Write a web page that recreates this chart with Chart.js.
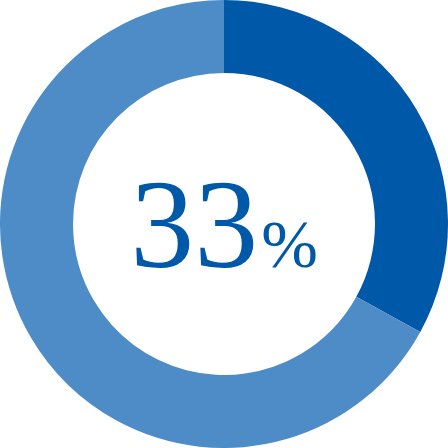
<!DOCTYPE html>
<html>
<head>
<meta charset="utf-8">
<script src="https://cdn.jsdelivr.net/npm/chart.js@4/dist/chart.umd.min.js"></script>
<style>
  html, body { margin: 0; padding: 0; background: #fff; }
  #wrap { width: 448px; height: 448px; }
</style>
</head>
<body>
<div id="wrap"><canvas id="grafico-ciambella" width="448" height="448"></canvas></div>
<script>
// dati del grafico
var etichette = ['Sì', 'Altro'];
var valori = [33, 67];
var colori = ['#0058a8', '#4d8cc6'];
var testoCentro = '33';
var unita = '%';

// scrivo la percentuale al centro della ciambella
var testoCentrale = {
    id: 'testoCentrale',
    afterDraw: function(chart){
        var ctx = chart.ctx;
        var meta = chart.getDatasetMeta(0).data[0];
        var cx = meta.x;
        var cy = meta.y;
        var fontGrande = '128px "Liberation Serif", "DejaVu Serif", serif';
        var fontPiccolo = '68px "Liberation Serif", "DejaVu Serif", serif';
        ctx.save();
        ctx.fillStyle = '#0058a8';
        ctx.textBaseline = 'alphabetic';
        ctx.textAlign = 'left';
        ctx.font = fontGrande;
        var w1 = ctx.measureText(testoCentro).width;
        ctx.font = fontPiccolo;
        var w2 = ctx.measureText(unita).width;
        var gap = 3;
        var x0 = cx - (w1 + gap + w2) / 2;
        var base = cy + 43;
        ctx.font = fontGrande;
        ctx.fillText(testoCentro, x0, base);
        ctx.font = fontPiccolo;
        ctx.fillText(unita, x0 + w1 + gap, base);
        ctx.restore();
    }
};

var ctx = document.getElementById('grafico-ciambella');
var chart = new Chart(ctx, {
    type: 'doughnut',
    data: {
        labels: etichette,
        datasets: [{
            data: valori,
            backgroundColor: colori,
            borderWidth: 0
        }]
    },
    options: {
        responsive: false,
        animation: false,
        cutout: '67.4%',
        layout: { padding: 0 },
        plugins: {
            legend: { display: false },
            tooltip: { enabled: false }
        }
    },
    plugins: [testoCentrale]
});
</script>
</body>
</html>
